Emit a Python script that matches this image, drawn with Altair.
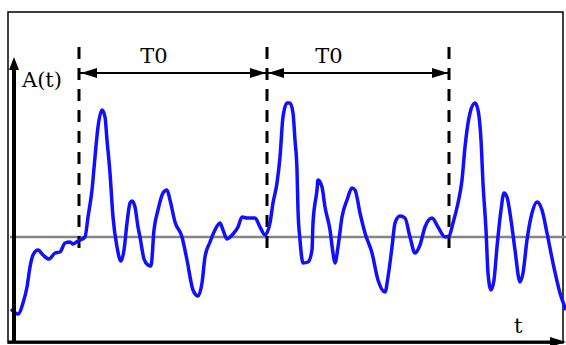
import altair as alt
import pandas as pd

# ---- signal A(t): t and amplitude (relative to the grey mean line) ----
t = [11, 18, 23, 27, 30, 33, 38, 43, 49, 55, 60, 65, 70, 73, 78, 85, 88, 92, 95, 98,
     102, 105, 107, 110, 113, 117, 121, 124, 127, 130, 132, 135, 138, 140, 144, 148, 151,
     154, 158, 163, 167, 170, 175, 182, 187, 193, 198, 202, 205, 210, 215, 220, 223, 227,
     233, 238, 242, 247, 255, 260, 265, 270, 273, 277, 280, 283, 287, 290, 293, 295, 297,
     298, 300, 303, 308, 312, 313, 317, 318, 322, 325, 330, 333, 335, 338, 342, 347, 352,
     355, 360, 365, 372, 378, 385, 388, 392, 395, 400, 405, 410, 415, 420, 425, 432, 438,
     445, 449, 453, 458, 462, 465, 470, 475, 478, 481, 483, 486, 488, 491, 494, 497, 501,
     504, 507, 511, 515, 520, 523, 527, 532, 537, 542, 547, 553, 560, 566]
A = [-72, -77, -66, -50, -30, -18, -13, -18, -22, -16, -15, -6, -5, -7, -4, 0, 20, 47, 80, 110,
     127, 120, 97, 64, 20, -10, -24, -13, 14, 34, 36, 30, 10, 0, -22, -28, -29,
     7, 27, 44, 47, 37, 15, 0, -23, -53, -59, -46, -20, -5, 7, 14, 7, -2,
     3, 10, 20, 19, 19, 10, 2, 14, 34, 54, 80, 120, 134, 134, 124, 97, 67,
     27, -3, -26, -25, -13, 14, 47, 57, 50, 30, 7, -16, -26, -10, 20, 37, 49,
     47, 24, 4, -16, -43, -55, -40, -10, 14, 21, 19, 0, -16, -8, 10, 19, 10,
     0, 1, 14, 34, 57, 90, 124, 134, 127, 97, 54, 7, -36, -53, -43, -10, 27,
     44, 40, 17, -13, -45, -36, -3, 24, 35, 27, 4, -26, -56, -73]

# ---- annotation values ----
period_marks = [79, 267, 449]          # dashed period boundaries
dash_top, dash_bottom = 190, -13
span_start = [79, 267]
span_end = [267, 449]
span_level = 164
span_labels = ["T0", "T0"]
span_label_t = [154, 329]
span_label_A = 174
left_heads_t = [89, 276]               # arrowheads pointing left (centres)
right_heads_t = [258, 440]             # arrowheads pointing right (centres)
mean_level = 0
mean_from, mean_to = 10, 566
t_min, t_max = 0, 566
A_min, A_max = -108, 237
frame_t = [8, 563]
frame_A = [-106, 225]
yaxis_t = 14
yaxis_top = 172
yaxis_head = 173.5
xaxis_A = -105
xaxis_from, xaxis_to = 8, 552
xaxis_head = 558
axis_labels = ["A(t)", "t"]
axis_label_t = [22, 514]
axis_label_A = [150, -96]

FONT = "DejaVu Serif"
xs = alt.Scale(domain=[t_min, t_max], nice=False, zero=False)
ys = alt.Scale(domain=[A_min, A_max], nice=False, zero=False)

RIGHT = "M1,0L-1,-0.62L-1,0.62Z"
LEFT = "M-1,0L1,-0.62L1,0.62Z"
UP = "M0,-1L-0.77,1L0.77,1Z"

sig = pd.DataFrame({"t": t, "A": A, "i": range(len(t))})

frame = alt.Chart(pd.DataFrame({"t": [frame_t[0]], "t2": [frame_t[1]],
                                "A": [frame_A[0]], "A2": [frame_A[1]]})).mark_rect(
    filled=False, stroke="black", strokeWidth=1.5).encode(
    x=alt.X("t:Q", scale=xs, axis=None), x2="t2", y=alt.Y("A:Q", scale=ys, axis=None), y2="A2")

mean = alt.Chart(pd.DataFrame({"t": [mean_from], "t2": [mean_to], "A": [mean_level]})).mark_rule(
    color="#858585", strokeWidth=2.5).encode(
    x=alt.X("t:Q", scale=xs, axis=None), x2="t2", y=alt.Y("A:Q", scale=ys, axis=None))

dashes = alt.Chart(pd.DataFrame({"t": period_marks, "A": [dash_top] * 3, "A2": [dash_bottom] * 3})).mark_rule(
    color="black", strokeWidth=3, strokeDash=[12, 9]).encode(
    x=alt.X("t:Q", scale=xs, axis=None), y=alt.Y("A:Q", scale=ys, axis=None), y2="A2")

spans = alt.Chart(pd.DataFrame({"t": span_start, "t2": span_end, "A": [span_level] * 2})).mark_rule(
    color="black", strokeWidth=2).encode(
    x=alt.X("t:Q", scale=xs, axis=None), x2="t2", y=alt.Y("A:Q", scale=ys, axis=None))

lheads = alt.Chart(pd.DataFrame({"t": left_heads_t, "A": [span_level] * 2})).mark_point(
    shape=LEFT, filled=True, size=256, color="black", opacity=1, strokeWidth=0).encode(
    x=alt.X("t:Q", scale=xs, axis=None), y=alt.Y("A:Q", scale=ys, axis=None))

rheads = alt.Chart(pd.DataFrame({"t": right_heads_t + [xaxis_head],
                                 "A": [span_level] * 2 + [xaxis_A]})).mark_point(
    shape=RIGHT, filled=True, size=256, color="black", opacity=1, strokeWidth=0).encode(
    x=alt.X("t:Q", scale=xs, axis=None), y=alt.Y("A:Q", scale=ys, axis=None))

uphead = alt.Chart(pd.DataFrame({"t": [yaxis_t], "A": [yaxis_head]})).mark_point(
    shape=UP, filled=True, size=169, color="black", opacity=1, strokeWidth=0).encode(
    x=alt.X("t:Q", scale=xs, axis=None), y=alt.Y("A:Q", scale=ys, axis=None))

yaxis = alt.Chart(pd.DataFrame({"t": [yaxis_t], "A": [frame_A[0]], "A2": [yaxis_top]})).mark_rule(
    color="black", strokeWidth=4).encode(
    x=alt.X("t:Q", scale=xs, axis=None), y=alt.Y("A:Q", scale=ys, axis=None), y2="A2")

xaxis = alt.Chart(pd.DataFrame({"t": [xaxis_from], "t2": [xaxis_to], "A": [xaxis_A]})).mark_rule(
    color="black", strokeWidth=3).encode(
    x=alt.X("t:Q", scale=xs, axis=None), x2="t2", y=alt.Y("A:Q", scale=ys, axis=None))

curve = alt.Chart(sig).mark_line(color="#1010ff", strokeWidth=3.5, strokeJoin="round",
                                 interpolate="monotone").encode(
    x=alt.X("t:Q", scale=xs, axis=None), y=alt.Y("A:Q", scale=ys, axis=None), order="i:Q")

span_text = alt.Chart(pd.DataFrame({"t": span_label_t, "A": [span_label_A] * 2,
                                    "s": span_labels})).mark_text(
    font=FONT, fontSize=21, color="black", align="center", baseline="alphabetic").encode(
    x=alt.X("t:Q", scale=xs, axis=None), y=alt.Y("A:Q", scale=ys, axis=None), text="s:N")

ax_text = alt.Chart(pd.DataFrame({"t": axis_label_t, "A": axis_label_A, "s": axis_labels})).mark_text(
    font=FONT, fontSize=21, color="black", align="left", baseline="alphabetic").encode(
    x=alt.X("t:Q", scale=xs, axis=None), y=alt.Y("A:Q", scale=ys, axis=None), text="s:N")

chart = alt.layer(frame, mean, dashes, spans, lheads, rheads, curve, yaxis, uphead, xaxis,
                  span_text, ax_text).properties(
    width=566, height=345, padding=0, autosize=alt.AutoSizeParams(type="none"),
    background="white").configure_view(stroke=None)

chart.save("out.html", embed_options={"renderer": "svg", "actions": False})
